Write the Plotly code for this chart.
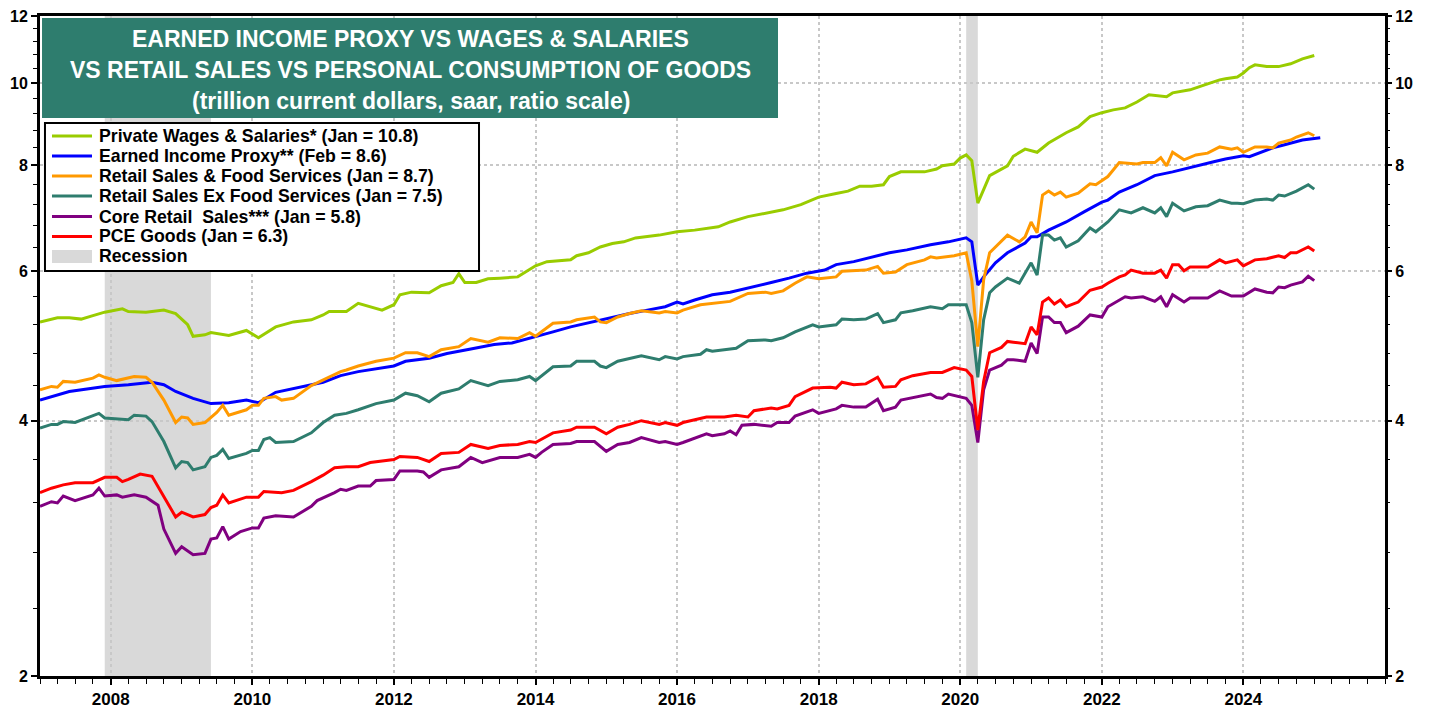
import plotly.graph_objects as go

FONT = "Liberation Sans, Arial, sans-serif"

# ---------------- data (trillion $, saar) ----------------
wages_dates = ["2007-01","2007-04","2007-06","2007-08","2007-10","2007-12","2008-03","2008-04","2008-07","2008-10",
 "2008-12","2009-02","2009-03","2009-05","2009-06","2009-09","2009-12","2010-02","2010-05","2010-08","2010-11",
 "2011-01","2011-02","2011-05","2011-07","2011-09","2011-11","2012-01","2012-02","2012-04","2012-07","2012-09",
 "2012-11","2012-12","2013-01","2013-03","2013-05","2013-07","2013-10","2014-01","2014-03","2014-07","2014-08",
 "2014-10","2014-12","2015-02","2015-04","2015-06","2015-10","2016-01","2016-04","2016-08","2016-10","2017-01",
 "2017-04","2017-07","2017-10","2018-01","2018-04","2018-06","2018-08","2018-10","2018-12","2019-01","2019-03",
 "2019-05","2019-07","2019-09","2019-10","2019-12","2020-01","2020-02","2020-03","2020-04","2020-06","2020-09",
 "2020-10","2020-12","2021-02","2021-04","2021-07","2021-09","2021-11","2022-01","2022-03","2022-05","2022-07",
 "2022-09","2022-11","2022-12","2023-01","2023-04","2023-07","2023-09","2023-10","2023-12","2024-01","2024-02",
 "2024-03","2024-05","2024-07","2024-09","2024-11","2025-01"]
wages_vals = [5.23,5.29,5.29,5.27,5.32,5.37,5.42,5.38,5.37,5.40,
 5.35,5.19,5.03,5.05,5.08,5.04,5.11,5.01,5.16,5.23,5.26,
 5.33,5.38,5.38,5.50,5.45,5.40,5.48,5.63,5.67,5.66,5.77,
 5.82,5.96,5.82,5.82,5.88,5.89,5.91,6.09,6.16,6.19,6.26,
 6.31,6.41,6.47,6.50,6.57,6.62,6.68,6.71,6.77,6.86,6.96,
 7.03,7.09,7.19,7.34,7.41,7.46,7.56,7.56,7.59,7.76,7.86,
 7.86,7.86,7.92,7.99,8.03,8.16,8.23,8.10,7.22,7.78,7.99,
 8.20,8.36,8.29,8.50,8.74,8.88,9.13,9.23,9.30,9.35,9.50,
 9.69,9.66,9.64,9.74,9.82,9.98,10.09,10.12,10.17,10.28,10.43,
 10.51,10.46,10.46,10.54,10.68,10.78]

eip_dates = ["2007-01","2007-06","2007-12","2008-04","2008-08","2008-10","2008-12","2009-03","2009-06","2009-09",
 "2009-12","2010-02","2010-05","2010-10","2011-01","2011-04","2011-07","2012-01","2012-03","2012-07","2012-10",
 "2013-02","2013-06","2013-09","2014-01","2014-04","2014-07","2014-10","2015-02","2015-05","2015-08","2015-11",
 "2016-01","2016-02","2016-04","2016-07","2016-10","2017-01","2017-05","2017-08","2017-11","2018-02","2018-04",
 "2018-07","2018-10","2019-01","2019-04","2019-08","2019-11","2020-02","2020-03","2020-04","2020-05","2020-07",
 "2020-09","2020-12","2021-01","2021-02","2021-04","2021-07","2021-10","2022-01","2022-02","2022-04","2022-07",
 "2022-10","2023-01","2023-05","2023-08","2023-10","2024-01","2024-02","2024-04","2024-06","2024-08","2024-11",
 "2025-02"]
eip_vals = [4.23,4.33,4.39,4.41,4.44,4.41,4.33,4.25,4.19,4.20,
 4.23,4.20,4.32,4.39,4.44,4.52,4.57,4.64,4.70,4.74,4.80,
 4.86,4.92,4.94,5.02,5.09,5.16,5.22,5.30,5.35,5.40,5.45,
 5.52,5.49,5.55,5.63,5.67,5.73,5.82,5.89,5.97,6.02,6.11,
 6.16,6.23,6.31,6.36,6.45,6.50,6.57,6.50,5.78,5.91,6.14,
 6.31,6.48,6.59,6.59,6.71,6.86,7.05,7.24,7.28,7.44,7.59,
 7.78,7.86,7.99,8.08,8.14,8.21,8.19,8.29,8.39,8.46,8.57,
 8.62]

rsfs_dates = ["2007-01","2007-03","2007-04","2007-05","2007-07","2007-10","2007-11","2007-12","2008-02","2008-04",
 "2008-05","2008-07","2008-08","2008-10","2008-12","2009-01","2009-02","2009-03","2009-05","2009-07","2009-08",
 "2009-09","2009-12","2010-01","2010-02","2010-03","2010-05","2010-06","2010-08","2010-11","2011-01","2011-04",
 "2011-05","2011-07","2011-10","2012-01","2012-03","2012-05","2012-07","2012-09","2012-12","2013-02","2013-05",
 "2013-07","2013-10","2013-12","2014-01","2014-04","2014-07","2014-08","2014-11","2014-12","2015-01","2015-03",
 "2015-05","2015-07","2015-10","2015-11","2016-01","2016-02","2016-05","2016-07","2016-10","2017-01","2017-04",
 "2017-05","2017-07","2017-09","2017-11","2018-01","2018-04","2018-05","2018-07","2018-09","2018-11","2018-12",
 "2019-02","2019-04","2019-07","2019-08","2019-09","2019-12","2020-02","2020-03","2020-04","2020-05","2020-06",
 "2020-07","2020-08","2020-09","2020-11","2020-12","2021-01","2021-02","2021-03","2021-04","2021-05","2021-06",
 "2021-07","2021-09","2021-11","2021-12","2022-02","2022-04","2022-07","2022-08","2022-10","2022-11","2022-12",
 "2023-01","2023-03","2023-05","2023-07","2023-09","2023-11","2023-12","2024-01","2024-03","2024-05","2024-06",
 "2024-07","2024-09","2024-10","2024-12","2025-01"]
rsfs_vals = [4.35,4.39,4.38,4.45,4.44,4.49,4.53,4.50,4.46,4.49,
 4.51,4.50,4.44,4.23,3.98,4.04,4.03,3.96,3.98,4.09,4.17,
 4.06,4.12,4.17,4.17,4.25,4.27,4.23,4.25,4.40,4.47,4.57,
 4.59,4.64,4.70,4.74,4.81,4.81,4.76,4.85,4.89,5.00,4.95,
 5.01,5.00,5.08,5.03,5.21,5.23,5.26,5.30,5.23,5.22,5.30,
 5.35,5.39,5.36,5.38,5.36,5.40,5.48,5.50,5.53,5.65,5.67,
 5.65,5.69,5.81,5.91,5.88,5.91,6.00,6.01,6.02,6.08,5.97,
 5.99,6.11,6.19,6.24,6.22,6.26,6.31,5.85,4.89,5.86,6.31,
 6.41,6.53,6.62,6.50,6.59,6.86,6.66,7.38,7.46,7.38,7.44,
 7.34,7.42,7.61,7.59,7.76,8.06,8.03,8.06,8.06,8.17,7.99,
 8.29,8.12,8.23,8.27,8.41,8.36,8.39,8.29,8.41,8.41,8.39,
 8.50,8.57,8.64,8.74,8.67]

rsx_dates = ["2007-01","2007-03","2007-04","2007-05","2007-07","2007-11","2007-12","2008-02","2008-04","2008-05",
 "2008-07","2008-08","2008-10","2008-12","2009-01","2009-02","2009-03","2009-05","2009-06","2009-07","2009-08",
 "2009-09","2009-12","2010-01","2010-02","2010-03","2010-04","2010-05","2010-08","2010-11","2011-01","2011-03",
 "2011-05","2011-07","2011-10","2012-01","2012-03","2012-05","2012-07","2012-09","2012-12","2013-02","2013-05",
 "2013-07","2013-10","2013-12","2014-01","2014-04","2014-07","2014-08","2014-11","2014-12","2015-01","2015-03",
 "2015-05","2015-07","2015-10","2015-11","2016-01","2016-02","2016-05","2016-06","2016-07","2016-09","2016-11",
 "2017-01","2017-04","2017-05","2017-07","2017-09","2017-12","2018-01","2018-04","2018-05","2018-07","2018-09",
 "2018-11","2018-12","2019-02","2019-03","2019-05","2019-08","2019-09","2019-10","2019-11","2020-02","2020-03",
 "2020-04","2020-05","2020-06","2020-07","2020-09","2020-11","2021-01","2021-02","2021-03","2021-04","2021-05",
 "2021-06","2021-07","2021-09","2021-11","2021-12","2022-02","2022-04","2022-06","2022-08","2022-10","2022-11",
 "2022-12","2023-01","2023-03","2023-05","2023-07","2023-09","2023-11","2023-12","2024-01","2024-03","2024-05",
 "2024-06","2024-07","2024-08","2024-10","2024-12","2025-01"]
rsx_vals = [3.92,3.96,3.96,3.99,3.98,4.08,4.03,4.02,4.01,4.06,
 4.05,3.99,3.78,3.52,3.58,3.57,3.50,3.53,3.62,3.64,3.70,
 3.61,3.66,3.69,3.69,3.80,3.82,3.77,3.78,3.87,3.98,4.06,
 4.08,4.12,4.19,4.23,4.31,4.28,4.21,4.31,4.36,4.46,4.40,
 4.45,4.47,4.51,4.46,4.63,4.64,4.70,4.70,4.64,4.62,4.70,
 4.73,4.77,4.72,4.76,4.73,4.76,4.79,4.85,4.83,4.85,4.87,
 4.97,4.98,4.97,5.01,5.09,5.19,5.16,5.19,5.27,5.26,5.27,
 5.35,5.22,5.26,5.36,5.39,5.45,5.43,5.42,5.48,5.48,5.22,
 4.50,5.26,5.66,5.75,5.89,5.81,6.14,5.94,6.62,6.62,6.53,
 6.57,6.41,6.52,6.75,6.68,6.86,7.09,7.03,7.13,7.03,7.13,
 6.96,7.22,7.07,7.15,7.17,7.28,7.22,7.22,7.21,7.28,7.30,
 7.28,7.38,7.36,7.46,7.59,7.50]

core_dates = ["2007-01","2007-03","2007-04","2007-05","2007-07","2007-10","2007-11","2007-12","2008-02","2008-03",
 "2008-05","2008-07","2008-09","2008-10","2008-12","2009-01","2009-03","2009-05","2009-06","2009-07","2009-08",
 "2009-09","2009-11","2010-01","2010-02","2010-03","2010-05","2010-08","2010-11","2010-12","2011-03","2011-04",
 "2011-05","2011-07","2011-09","2011-10","2012-01","2012-02","2012-05","2012-06","2012-07","2012-09","2012-12",
 "2013-02","2013-04","2013-07","2013-10","2013-12","2014-01","2014-02","2014-04","2014-07","2014-08","2014-11",
 "2015-01","2015-03","2015-05","2015-07","2015-10","2015-11","2016-01","2016-02","2016-06","2016-07","2016-09",
 "2016-10","2016-11","2016-12","2017-02","2017-05","2017-06","2017-08","2017-09","2017-12","2018-01","2018-04",
 "2018-05","2018-07","2018-09","2018-11","2018-12","2019-02","2019-03","2019-05","2019-08","2019-09","2019-10",
 "2019-11","2020-02","2020-03","2020-04","2020-05","2020-06","2020-08","2020-09","2020-10","2020-12","2021-01",
 "2021-02","2021-03","2021-04","2021-05","2021-06","2021-07","2021-09","2021-11","2022-01","2022-02","2022-04",
 "2022-05","2022-06","2022-08","2022-10","2022-11","2022-12","2023-01","2023-03","2023-04","2023-07","2023-09",
 "2023-11","2024-01","2024-03","2024-05","2024-06","2024-07","2024-08","2024-09","2024-11","2024-12","2025-01"]
core_vals = [3.17,3.21,3.20,3.26,3.22,3.27,3.33,3.26,3.27,3.25,
 3.27,3.25,3.18,2.98,2.79,2.84,2.78,2.79,2.90,2.91,3.00,
 2.90,2.96,2.99,2.99,3.07,3.09,3.08,3.17,3.22,3.29,3.32,
 3.31,3.35,3.35,3.40,3.41,3.49,3.49,3.48,3.43,3.50,3.53,
 3.62,3.57,3.62,3.62,3.65,3.62,3.67,3.75,3.76,3.78,3.78,
 3.68,3.75,3.77,3.82,3.77,3.78,3.75,3.77,3.86,3.84,3.86,
 3.89,3.85,3.95,3.96,3.94,3.98,3.98,4.05,4.12,4.08,4.13,
 4.17,4.15,4.15,4.24,4.11,4.15,4.23,4.26,4.30,4.26,4.25,
 4.30,4.25,4.17,3.77,4.35,4.59,4.65,4.72,4.72,4.70,4.94,
 4.80,5.30,5.30,5.22,5.22,5.08,5.17,5.33,5.30,5.45,5.55,
 5.60,5.58,5.60,5.53,5.60,5.45,5.63,5.52,5.58,5.58,5.69,
 5.61,5.61,5.72,5.67,5.66,5.75,5.74,5.78,5.83,5.92,5.85]

pce_dates = ["2007-01","2007-03","2007-05","2007-07","2007-10","2007-12","2008-02","2008-03","2008-04","2008-06",
 "2008-08","2008-10","2008-12","2009-01","2009-03","2009-05","2009-06","2009-07","2009-08","2009-09","2009-12",
 "2010-02","2010-03","2010-06","2010-08","2010-11","2011-01","2011-03","2011-05","2011-07","2011-09","2012-01",
 "2012-02","2012-05","2012-07","2012-09","2012-12","2013-02","2013-05","2013-07","2013-10","2013-12","2014-01",
 "2014-04","2014-07","2014-08","2014-11","2015-01","2015-03","2015-05","2015-07","2015-10","2015-11","2016-01",
 "2016-02","2016-06","2016-07","2016-09","2016-11","2017-01","2017-02","2017-05","2017-06","2017-08","2017-09",
 "2017-12","2018-03","2018-04","2018-05","2018-07","2018-09","2018-11","2018-12","2019-02","2019-03","2019-05",
 "2019-08","2019-10","2019-12","2020-02","2020-03","2020-04","2020-05","2020-06","2020-08","2020-09","2020-10",
 "2020-12","2021-01","2021-02","2021-03","2021-04","2021-05","2021-06","2021-07","2021-09","2021-11","2022-01",
 "2022-02","2022-04","2022-05","2022-06","2022-08","2022-10","2022-11","2022-12","2023-01","2023-02","2023-03",
 "2023-04","2023-07","2023-09","2023-10","2023-12","2024-01","2024-03","2024-05","2024-07","2024-08","2024-09",
 "2024-10","2024-12","2025-01"]
pce_vals = [3.29,3.33,3.36,3.38,3.38,3.43,3.43,3.39,3.41,3.46,
 3.44,3.25,3.08,3.12,3.08,3.10,3.16,3.18,3.27,3.20,3.25,
 3.25,3.30,3.29,3.31,3.39,3.45,3.52,3.53,3.53,3.57,3.60,
 3.63,3.62,3.58,3.66,3.67,3.75,3.71,3.74,3.75,3.78,3.77,
 3.87,3.90,3.93,3.93,3.86,3.93,3.96,4.00,3.96,3.98,3.95,
 3.98,4.04,4.04,4.04,4.06,4.04,4.11,4.14,4.13,4.17,4.27,
 4.37,4.38,4.37,4.44,4.41,4.42,4.50,4.38,4.39,4.47,4.52,
 4.56,4.56,4.62,4.59,4.51,3.90,4.45,4.81,4.88,4.96,4.95,
 4.93,5.16,5.05,5.52,5.58,5.49,5.55,5.45,5.52,5.70,5.75,
 5.81,5.91,5.94,6.02,5.97,5.97,6.02,5.89,6.11,6.11,6.01,
 6.07,6.07,6.19,6.14,6.19,6.09,6.19,6.21,6.26,6.23,6.31,
 6.31,6.41,6.34]

series_names = ["Private Wages & Salaries* (Jan = 10.8)", "Earned Income Proxy** (Feb = 8.6)",
                "Retail Sales & Food Services (Jan = 8.7)", "Retail Sales Ex Food Services (Jan = 7.5)",
                "Core Retail  Sales*** (Jan = 5.8)", "PCE Goods (Jan = 6.3)"]
series_colors = ["#99CC00", "#0000FF", "#FF9900", "#2E7D6E", "#800080", "#FF0000"]
series_data = [(wages_dates, wages_vals), (eip_dates, eip_vals), (rsfs_dates, rsfs_vals),
               (rsx_dates, rsx_vals), (core_dates, core_vals), (pce_dates, pce_vals)]

recessions = [("2007-12-01", "2009-06-01"), ("2020-02-01", "2020-04-01")]
title_lines = ["EARNED INCOME PROXY VS WAGES & SALARIES",
               "VS RETAIL SALES VS PERSONAL CONSUMPTION OF GOODS",
               "(trillion current dollars, saar, ratio scale)"]
y_ticks = [2, 4, 6, 8, 10, 12]
x_ticks = [f"{y}-01-01" for y in range(2008, 2026, 2)]
x_labels = [str(y) for y in range(2008, 2026, 2)]

# ---------------- figure ----------------
fig = go.Figure()
for (d, v), name, col in zip(series_data, series_names, series_colors):
    fig.add_trace(go.Scatter(x=d, y=v, mode="lines", name=name,
                             line=dict(color=col, width=3), showlegend=False))
# dummy trace to activate the right-hand axis
fig.add_trace(go.Scatter(x=[None], y=[None], yaxis="y2", showlegend=False, hoverinfo="skip"))

minor_y = [round(2 + 0.4 * i, 1) for i in range(1, 25)]
minor_y = [m for m in minor_y if abs(m - round(m)) > 1e-6 or int(round(m)) % 2 == 1]

ytickfont = dict(family=FONT, size=16, color="black", weight="bold")
xtickfont = dict(family=FONT, size=17, color="black", weight="bold")
yax = dict(type="log", range=[0.30103, 1.079181], tickvals=y_ticks, ticktext=[str(t) for t in y_ticks],
           ticks="outside", ticklen=6, tickwidth=1.5, tickcolor="black", tickfont=ytickfont,
           automargin=False,
           minor=dict(tickvals=minor_y, ticks="outside", ticklen=4, tickwidth=1, tickcolor="black", showgrid=False))

fig.update_layout(
    width=1438, height=709,
    margin=dict(l=40, r=53, t=16, b=33, autoexpand=False),
    paper_bgcolor="white", plot_bgcolor="white",
    font=dict(family=FONT, color="black"),
    xaxis=dict(type="date", range=["2007-01-01", "2026-01-01"], tickvals=x_ticks, ticktext=x_labels,
               ticks="outside", ticklen=6, tickwidth=1.5, tickcolor="black", tickfont=xtickfont,
               showline=True, linewidth=3, linecolor="black", mirror=True, automargin=False,
               showgrid=True, gridcolor="#C8C8C8", griddash="dot", gridwidth=1.5,
               minor=dict(dtick="M3", tick0="2007-01-01", ticks="outside", ticklen=5, tickwidth=1,
                          tickcolor="black", showgrid=False),
               zeroline=False),
    yaxis=dict(**yax, showline=True, linewidth=3, linecolor="black", mirror=True,
               showgrid=True, gridcolor="#C8C8C8", griddash="dot", gridwidth=1.5, zeroline=False),
    yaxis2=dict(**yax, overlaying="y", side="right", showline=False, showgrid=False, zeroline=False),
    showlegend=False,
)

shapes = []
for x0, x1 in recessions:
    shapes.append(dict(type="rect", xref="x", yref="paper", x0=x0, x1=x1, y0=0, y1=1,
                       fillcolor="#D9D9D9", line=dict(width=0), layer="below"))

# title box
shapes.append(dict(type="rect", xref="paper", yref="paper", x0=0.0015, x1=0.5487, y0=0.8455, y1=0.9970,
                   fillcolor="#2E7D6E", line=dict(width=0), layer="above"))
# legend box
shapes.append(dict(type="rect", xref="paper", yref="paper", x0=0.0037, x1=0.3264, y0=0.6136, y1=0.8379,
                   fillcolor="white", line=dict(color="black", width=2), layer="above"))

annotations = []
title_y = [0.9650, 0.9180, 0.8712]
for txt, yy in zip(title_lines, title_y):
    annotations.append(dict(xref="paper", yref="paper", x=0.2758, y=yy, text=txt, showarrow=False,
                            xanchor="center", yanchor="middle",
                            font=dict(family=FONT, size=23, color="white", weight="bold")))

leg_y = [0.81818, 0.78788, 0.75758, 0.72727, 0.69621, 0.66591]
leg_x = 0.0424
for name, col, yy in zip(series_names, series_colors, leg_y):
    shapes.append(dict(type="line", xref="paper", yref="paper", x0=0.00892, x1=0.03866, y0=yy, y1=yy,
                       line=dict(color=col, width=3), layer="above"))
    annotations.append(dict(xref="paper", yref="paper", x=leg_x, y=yy, text=name, showarrow=False,
                            xanchor="left", yanchor="middle",
                            font=dict(family=FONT, size=17.7, color="black", weight="bold")))
shapes.append(dict(type="rect", xref="paper", yref="paper", x0=0.00892, x1=0.03866, y0=0.62576, y1=0.64545,
                   fillcolor="#D9D9D9", line=dict(width=0), layer="above"))
annotations.append(dict(xref="paper", yref="paper", x=leg_x, y=0.63561, text="Recession", showarrow=False,
                        xanchor="left", yanchor="middle",
                        font=dict(family=FONT, size=17.7, color="black", weight="bold")))

fig.update_layout(shapes=shapes, annotations=annotations)
fig.write_html("out.html", config={"displayModeBar": False},
               post_script="document.body.style.margin='0px';document.body.style.overflow='hidden';")
